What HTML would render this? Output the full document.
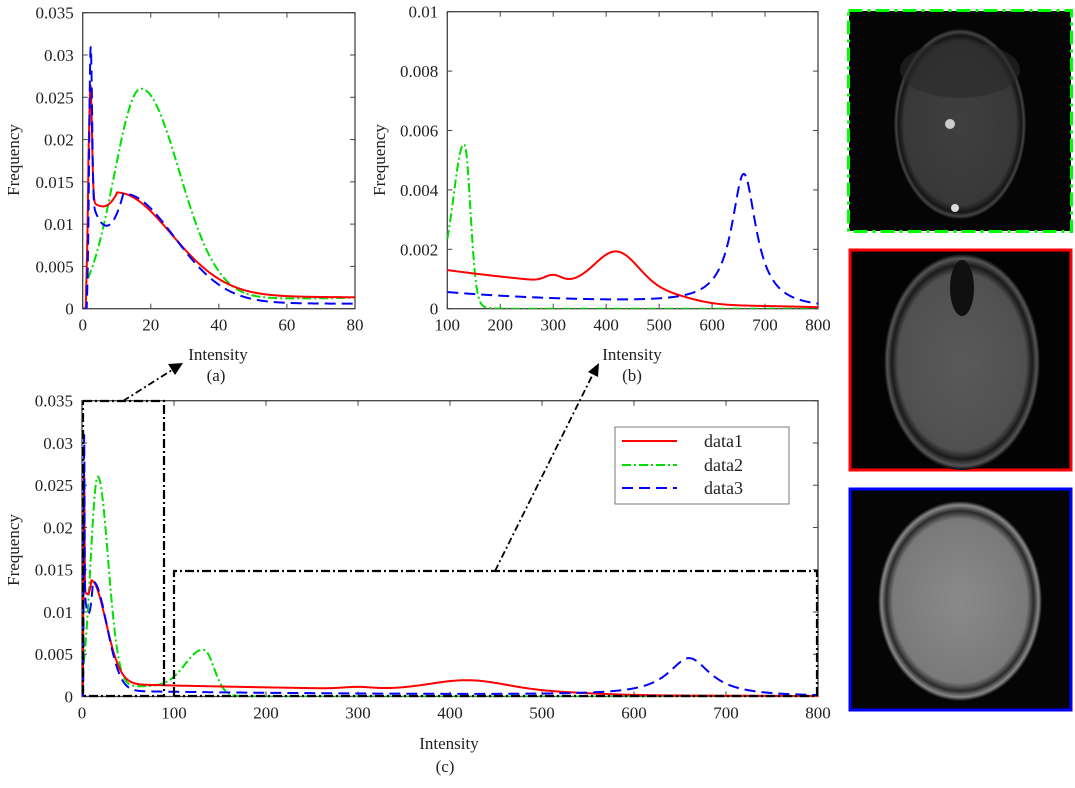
<!DOCTYPE html>
<html><head><meta charset="utf-8"><style>
html,body{margin:0;padding:0;background:#fff;}
svg{display:block;font-family:"Liberation Serif",serif;}
</style></head><body>
<svg id="s" width="1075" height="788" viewBox="0 0 1075 788" xmlns="http://www.w3.org/2000/svg">
<defs>
<clipPath id="ca"><rect x="82.7" y="12.7" width="272.3" height="296"/></clipPath>
<clipPath id="cb"><rect x="447.3" y="11.7" width="370.7" height="297"/></clipPath>
<clipPath id="cc"><rect x="82" y="400.7" width="736" height="296"/></clipPath>
<radialGradient id="g1" cx="50%" cy="50%" r="50%"><stop offset="0" stop-color="#404040"/><stop offset="0.85" stop-color="#383838"/><stop offset="0.93" stop-color="#151515"/><stop offset="0.97" stop-color="#444"/><stop offset="1" stop-color="#0d0d0d"/></radialGradient>
<radialGradient id="g2" cx="50%" cy="50%" r="50%"><stop offset="0" stop-color="#5a5a5a"/><stop offset="0.82" stop-color="#505050"/><stop offset="0.9" stop-color="#1a1a1a"/><stop offset="0.96" stop-color="#555"/><stop offset="1" stop-color="#050505"/></radialGradient>
<radialGradient id="g3" cx="50%" cy="50%" r="50%"><stop offset="0" stop-color="#8a8a8a"/><stop offset="0.82" stop-color="#7a7a7a"/><stop offset="0.9" stop-color="#2a2a2a"/><stop offset="0.96" stop-color="#888"/><stop offset="1" stop-color="#060606"/></radialGradient>
</defs>
<g id="plots"></g>

<rect x="849" y="11" width="222" height="220" fill="#050505"/>
<rect x="848.5" y="10.5" width="223" height="221" fill="none" stroke="#00ff00" stroke-width="3" stroke-dasharray="14,5,3,5"/>
<ellipse cx="960" cy="124" rx="66" ry="95" fill="url(#g1)"/>
<ellipse cx="960" cy="70" rx="60" ry="28" fill="#2a2a2a" opacity="0.6"/>
<circle cx="955" cy="208" r="4" fill="#ddd"/><circle cx="950" cy="124" r="5" fill="#ccc"/>
<rect x="850" y="250" width="221" height="220" fill="#030303" stroke="#ff0000" stroke-width="3"/>
<ellipse cx="962" cy="362" rx="78" ry="108" fill="url(#g2)"/>
<ellipse cx="962" cy="288" rx="12" ry="28" fill="#101010"/>
<rect x="850" y="489" width="221" height="221" fill="#050505" stroke="#0000ff" stroke-width="3"/>
<ellipse cx="960" cy="601" rx="82" ry="100" fill="url(#g3)"/>
</svg>
<script>
function G(x,m,s){return Math.exp(-Math.pow((x-m)/s,2));}
function sig(z){return 1/(1+Math.exp(z));}
function red(x){
 if(x<0.9)return 0;
 var ramp=Math.min(1,(x-0.9)/0.8);
 var spike=0.0135*G(x,2.3,0.6);
 var main;
 if(x<10) main=0.0120+0.0015*Math.pow((x-6)/4,2)*(x>6?1:0.6);
 else main=0.0122*G(x,10,22.5);
 var plat=0.00125*Math.exp(-(x-80)/500)*sig((x-560)/30);
 if(x<10) plat=0;
 var v=main+plat+0.00022*G(x,300,22)+0.0012*G(x,420,58)+0.0001*sig((x-800)/50);
 return ramp*(v+spike);
}
function green(x){
 if(x<1)return 0;
 var v;
 if(x<17)v=0.0255*G(x,17,11); else v=0.0255*G(x,17,16);
 var tail=0.0012*sig((x-140)/10)*Math.min(1,x/40);
 var p=x<133?0.0047*G(x,133,28):0.0047*G(x,133,15);
 return v+tail+p;
}
function blue(x){
 if(x<1.2)return 0;
 var spike=0.021*G(x,2.3,0.55);
 var main;
 if(x<12) main=(0.0098+0.0039*Math.pow((x-7)/5,2))*Math.min(1,(x-1.2)/1.5);
 else main=0.0129*G(x,12,21);
 var base=(0.00045*Math.exp(-(x-100)/300)+0.0001)*sig((x-700)/25);
 if(x<12) base=0;
 var lz=0.0044/(1+Math.pow((x-660)/28,2));
 return main+spike+base+lz;
}
var NS="http://www.w3.org/2000/svg",P=document.getElementById('plots');
function el(t,a,txt){var e=document.createElementNS(NS,t);for(var k in a)e.setAttribute(k,a[k]);if(txt!==undefined)e.textContent=txt;P.appendChild(e);return e;}
function plot(o){
 var sx=function(v){return o.x0+(v-o.xmin)/(o.xmax-o.xmin)*(o.x1-o.x0);};
 var sy=function(v){return o.yb-(v/o.ymax)*(o.yb-o.yt);};
 el('rect',{x:o.x0,y:o.yt,width:o.x1-o.x0,height:o.yb-o.yt,fill:'#fff',stroke:'#444','stroke-width':1.3});
 o.xt.forEach(function(v){var X=sx(v);el('line',{x1:X,y1:o.yb,x2:X,y2:o.yb-5,stroke:'#444'});el('line',{x1:X,y1:o.yt,x2:X,y2:o.yt+5,stroke:'#444'});
  el('text',{x:X,y:o.yb+22,'text-anchor':'middle','font-size':17,fill:'#222'},String(v));});
 o.yt_.forEach(function(v){var Y=sy(v);el('line',{x1:o.x0,y1:Y,x2:o.x0+5,y2:Y,stroke:'#444'});el('line',{x1:o.x1,y1:Y,x2:o.x1-5,y2:Y,stroke:'#444'});
  el('text',{x:o.x0-9,y:Y+6,'text-anchor':'end','font-size':17,fill:'#222'},v===0?'0':String(v));});
 var fs=[[red,'#ff0000',''],[green,'#00e000','9,3,2,3'],[blue,'#0000ff','11,6']];
 var order=o.order||[1,0,2];
 order.forEach(function(i){var f=fs[i],d='';
  var xs=[];for(var x=o.xmin;x<=Math.min(100,o.xmax);x+=0.05)xs.push(x);
  for(var x=Math.max(100,o.xmin);x<=o.xmax;x+=1)xs.push(x);
  xs.forEach(function(x,j){d+=(j?'L':'M')+sx(x).toFixed(2)+','+sy(f[0](x)).toFixed(2);});
  var a={d:d,fill:'none',stroke:f[1],'stroke-width':2,'clip-path':'url(#'+o.clip+')','stroke-linejoin':'round'};
  if(f[2])a['stroke-dasharray']=f[2];el('path',a);});
 return {sx:sx,sy:sy};
}
plot({x0:82.7,x1:355,yt:12.7,yb:308.7,xmin:0,xmax:80,ymax:0.035,xt:[0,20,40,60,80],yt_:[0,0.005,0.01,0.015,0.02,0.025,0.03,0.035],clip:'ca'});
plot({x0:447.3,x1:818,yt:11.7,yb:308.7,xmin:100,xmax:800,ymax:0.01,xt:[100,200,300,400,500,600,700,800],yt_:[0,0.002,0.004,0.006,0.008,0.01],clip:'cb'});
var c=plot({x0:82,x1:818,yt:400.7,yb:696.5,xmin:0,xmax:800,ymax:0.035,xt:[0,100,200,300,400,500,600,700,800],yt_:[0,0.005,0.01,0.015,0.02,0.025,0.03,0.035],clip:'cc'});
var dd={fill:'none',stroke:'#000','stroke-width':2.2,'stroke-dasharray':'9,3,2,3'};
el('polyline',Object.assign({points:'83,401 164,401 164,696 83,696 83,401'},dd));
el('polyline',Object.assign({points:'174,696 174,571 817,571 817,696 174,696'},dd));
el('line',{x1:123,y1:401,x2:172,y2:370,stroke:'#000','stroke-width':1.8,'stroke-dasharray':'7,3,2,3'});
el('polygon',{points:'183,363 168,364 175,375',fill:'#000'});
el('line',{x1:495,y1:571,x2:592,y2:376,stroke:'#000','stroke-width':1.8,'stroke-dasharray':'7,3,2,3'});
el('polygon',{points:'599,363 588,372 598,377',fill:'#000'});
function lab(x,y,t,rot){var a={x:x,y:y,'text-anchor':'middle','font-size':17,fill:'#222'};if(rot)a.transform='rotate(-90 '+x+' '+y+')';el('text',a,t);}
lab(218,360,'Intensity');lab(216,381,'(a)');
lab(632,360,'Intensity');lab(632,381,'(b)');
lab(449,749,'Intensity');lab(445,772,'(c)');
lab(19,160,'Frequency',1);lab(385,160,'Frequency',1);lab(19,550,'Frequency',1);
el('rect',{x:615,y:427,width:174,height:77,fill:'#fff',stroke:'#777','stroke-width':1});
[['#ff0000','','data1',441],['#00e000','9,3,2,3','data2',465],['#0000ff','11,6','data3',488]].forEach(function(r){
 var a={x1:622,y1:r[3],x2:677,y2:r[3],stroke:r[0],'stroke-width':2};if(r[1])a['stroke-dasharray']=r[1];el('line',a);
 el('text',{x:704,y:r[3]+6,'font-size':18,fill:'#222'},r[2]);});
</script>
</body></html>
